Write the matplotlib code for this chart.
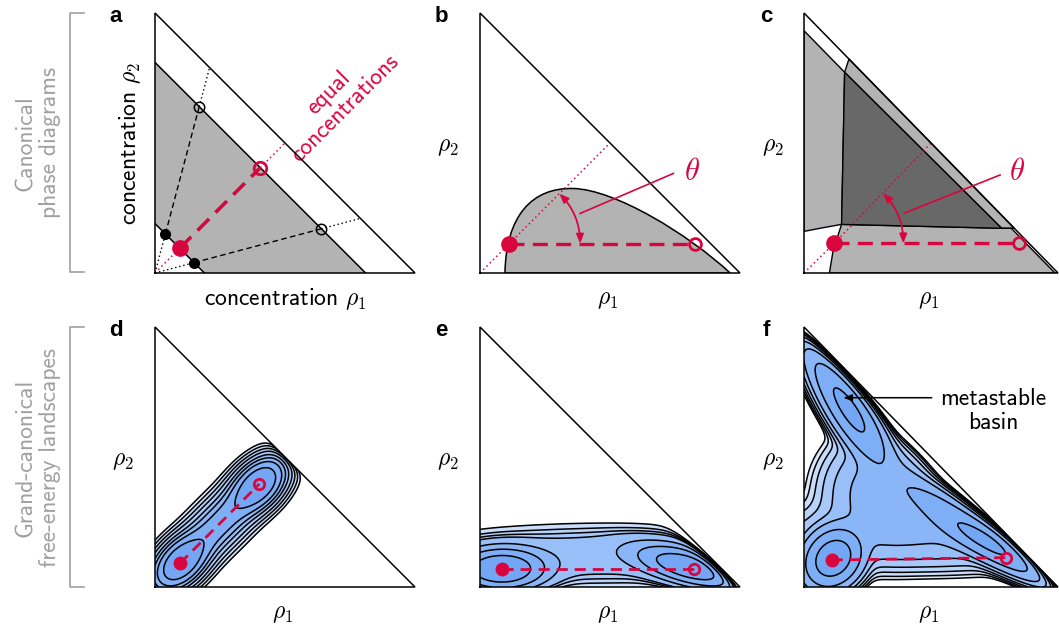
import numpy as np
import matplotlib
matplotlib.use("Agg")
import matplotlib.pyplot as plt
from matplotlib.patches import Polygon, PathPatch, FancyArrowPatch
from matplotlib.path import Path
from matplotlib.lines import Line2D

plt.rcParams["font.family"] = ["cmss10", "DejaVu Sans"]
plt.rcParams["mathtext.fontset"] = "cm"
plt.rcParams["axes.unicode_minus"] = False

RED = "#d8063f"
GRAY_TXT = "#a0a0a0"
LIGHT = "#b3b3b3"
DARK = "#686868"
# fill colours of the landscape bands, innermost first
BLUES = ["#73a7f5", "#7eaef6", "#8ab6f7", "#98bff8", "#a7c8f9", "#b8d3fa", "#cadefb", "#dde9fc"]

W, H = 1059, 624

# ---- panel a: tie lines between the two boundaries x+y=c ----
a_inner = 0.19
a_outer = 0.81
a_tie_dirs = [(0.21, 0.79), (0.79, 0.21)]   # directions of the black tie lines
a_red_dot = (0.095, 0.095)
a_red_ring = (0.405, 0.405)

# ---- panel b: binodal curve (bezier nodes) ----
b_curve = [(0.096, 0.0), (0.10, 0.22), (0.20, 0.33), (0.36, 0.325),
           (0.52, 0.32), (0.80, 0.15), (0.962, 0.0)]
b_red_dot = (0.113, 0.113)
b_red_ring = (0.827, 0.113)
b_theta_line = [(0.385, 0.229), (0.744, 0.383)]
b_theta_pos = (0.815, 0.385)

# ---- panel c: phase regions ----
c_left = [(0.0, 0.932), (0.16, 0.772), (0.148, 0.187), (0.063, 0.172), (0.0, 0.16)]
c_dark = [(0.16, 0.772), (0.778, 0.172), (0.148, 0.187)]
c_band = [(0.16, 0.772), (0.177, 0.823), (0.828, 0.172), (0.778, 0.172)]
c_bottom = [(0.148, 0.187), (0.778, 0.172), (0.816, 0.172), (0.988, 0.0),
            (0.10, 0.0), (0.115, 0.088)]
c_red_dot = (0.119, 0.114)
c_red_ring = (0.848, 0.114)
c_theta_line = [(0.394, 0.23), (0.772, 0.377)]
c_theta_pos = (0.84, 0.385)

# ---- panels d-f: wells of the free-energy landscapes ----
d_centers = [(0.096, 0.091), (0.401, 0.396), (0.25, 0.245)]
d_su = [0.07, 0.07, 0.16]
d_sv = [0.045, 0.045, 0.05]
d_ang = [45, 45, 45]
d_depth = [0.0, 0.0, -0.6]
d_levels = [0.4, 0.9, 1.3, 1.7, 2.2, 2.7, 3.25, 3.85]
d_red_dot = (0.096, 0.091)
d_red_ring = (0.401, 0.396)

e_centers = [(0.083, 0.068), (0.81, 0.075), (0.45, 0.12)]
e_su = [0.095, 0.12, 0.5]
e_sv = [0.045, 0.038, 0.085]
e_ang = [0, -15, 0]
e_depth = [0.0, -0.1, -1.95]
e_levels = [0.5, 1.1, 1.7, 2.29, 2.49, 2.71, 3.03]
e_red_dot = (0.083, 0.068)
e_red_ring = (0.824, 0.068)

f_centers = [(0.115, 0.11), (0.78, 0.155), (0.175, 0.695), (0.57, 0.28), (0.30, 0.36), (0.5, 0.2)]
f_su = [0.068, 0.17, 0.152, 0.174, 0.13, 0.35]
f_sv = [0.056, 0.04, 0.045, 0.043, 0.13, 0.08]
f_ang = [45, -26, -58, -32, 0, 0]
f_depth = [0.0, -0.2, -0.3, -1.1, -2.0, -2.35]
f_levels = [0.6, 1.5, 2.4, 3.0, 3.5, 3.9, 4.25, 4.55]
f_red_dot = (0.109, 0.104)
f_red_ring = (0.795, 0.113)
f_arrow = [(0.503, 0.728), (0.155, 0.728)]
f_text_pos = (0.744, 0.676)


def px_axes(fig, left, top, w, h):
    return fig.add_axes([left / W, 1 - (top + h) / H, w / W, h / H])


def setup(ax):
    ax.set_xlim(0, 1)
    ax.set_ylim(0, 1)
    ax.axis("off")


def triangle(ax, lw=1.1):
    ax.plot([0, 1, 0, 0], [0, 0, 1, 0], color="k", lw=lw, clip_on=False,
            solid_joinstyle="miter", zorder=5)


def red_pair(ax, p0, p1, lw=2.4, ms=10, ring=8, dash=(4, 2.5)):
    ax.plot([p0[0], p1[0]], [p0[1], p1[1]], color=RED, lw=lw, ls=(0, dash), zorder=6)
    ax.plot(*p0, "o", color=RED, ms=ms, zorder=7)
    ax.plot(*p1, "o", mfc="none", mec=RED, mew=2, ms=ring, zorder=7)


def diag_dots(ax, p0, p1):
    # dotted equal-concentration line, left open where the dashed tie line runs
    ax.plot([0, p0[0]], [0, p0[1]], color=RED, lw=1.1, ls=(0, (1, 2)), zorder=3)
    ax.plot([p1[0], 0.5], [p1[1], 0.5], color=RED, lw=1.1, ls=(0, (1, 2)), zorder=3)


def theta_marks(ax, center, radius, line, pos):
    p_a = (center[0] + radius, center[1])
    p_b = (center[0] + radius * np.cos(np.pi / 4), center[1] + radius * np.sin(np.pi / 4))
    arr = FancyArrowPatch(p_a, p_b, arrowstyle="<|-|>,head_length=0.55,head_width=0.22",
                          connectionstyle="arc3,rad=0.2", color=RED, lw=1.3,
                          mutation_scale=10, zorder=8, shrinkA=0, shrinkB=0)
    ax.add_patch(arr)
    ax.plot([line[0][0], line[1][0]], [line[0][1], line[1][1]], color=RED, lw=1.2, zorder=8)
    ax.text(pos[0], pos[1], r"$\theta$", color=RED, fontsize=22, ha="center", va="center")


def rho_labels(ax):
    ax.text(-0.123, 0.485, r"$\rho_2$", fontsize=17, ha="center", va="center")
    ax.text(0.49, -0.105, r"$\rho_1$", fontsize=17, ha="center", va="center")


def panel_label(ax, s):
    ax.text(-0.15, 0.985, s, fontsize=16, fontweight="bold", family="Liberation Sans",
            ha="center", va="center")


def landscape(ax, centers, su, sv, ang, depth, levels, wall, tau=1.0, reach=0.02):
    g = np.linspace(0, 1, 500)
    X, Y = np.meshgrid(g, g)
    terms = []
    for (cx, cy), a, b, t, dp in zip(centers, su, sv, ang, depth):
        t = np.deg2rad(t)
        dx, dy = X - cx, Y - cy
        u = dx * np.cos(t) + dy * np.sin(t)
        v = -dx * np.sin(t) + dy * np.cos(t)
        terms.append((-0.5 * (u ** 2 / a ** 2 + v ** 2 / b ** 2) + dp) / tau)
    T = np.array(terms)
    m = T.max(axis=0)
    F = -tau * (m + np.log(np.exp(T - m).sum(axis=0)))
    F = F + wall * np.exp(np.clip((X + Y - 1) / reach, -60, 30))
    cols = BLUES[:len(levels)]
    tri = Polygon([(0, 0), (1, 0), (0, 1)], closed=True, transform=ax.transData,
                  fc="none", ec="none")
    ax.add_patch(tri)
    cf = ax.contourf(X, Y, F, levels=[F.min() - 1] + levels, colors=cols)
    cl = ax.contour(X, Y, F, levels=levels, colors="k", linewidths=1.1)
    cf.set_clip_path(tri)
    cl.set_clip_path(tri)


fig = plt.figure(figsize=(W / 100, H / 100), dpi=100)

cols_px = [(155, 260), (480, 260), (804, 254)]
rows_px = [13, 327]
axs = [[px_axes(fig, l, t, w, 260) for (l, w) in cols_px] for t in rows_px]
for row in axs:
    for ax in row:
        setup(ax)

# ---------- a ----------
ax = axs[0][0]
ax.add_patch(Polygon([(0, a_inner), (0, a_outer), (a_outer, 0), (a_inner, 0)],
                     closed=True, fc=LIGHT, ec="none", zorder=1))
ax.plot([0, a_inner], [a_inner, 0], color="k", lw=1.1, zorder=3)
ax.plot([0, a_outer], [a_outer, 0], color="k", lw=1.1, zorder=3)
diag_dots(ax, a_red_dot, a_red_ring)
for dx, dy in a_tie_dirs:
    s = dx + dy
    p_in = (dx * a_inner / s, dy * a_inner / s)
    p_out = (dx * a_outer / s, dy * a_outer / s)
    ax.plot([0, p_in[0]], [0, p_in[1]], color="k", lw=1.0, ls=(0, (1, 2)), zorder=3)
    ax.plot([p_out[0], dx], [p_out[1], dy], color="k", lw=1.0, ls=(0, (1, 2)), zorder=3)
    ax.plot([p_in[0], p_out[0]], [p_in[1], p_out[1]], color="k", lw=1.0,
            ls=(0, (4, 2.5)), zorder=4)
    ax.plot(*p_in, "o", color="k", ms=7, zorder=7)
    ax.plot(*p_out, "o", mfc="none", mec="k", mew=1.1, ms=7.5, zorder=7)
red_pair(ax, a_red_dot, a_red_ring, lw=2.6, ms=11, ring=9, dash=(4.5, 2.5))
triangle(ax)
ax.text(-0.096, 0.5, r"concentration $\rho_2$", rotation=90, fontsize=17,
        ha="center", va="center")
ax.text(0.5, -0.1, r"concentration $\rho_1$", fontsize=17, ha="center", va="center")
ax.text(0.70, 0.664, "equal\nconcentrations", rotation=45, fontsize=17, color=RED,
        ha="center", va="center", multialignment="center", linespacing=1.0)
panel_label(ax, "a")

# ---------- b ----------
ax = axs[0][1]
codes = [Path.MOVETO] + [Path.CURVE4] * 6 + [Path.CLOSEPOLY]
verts = b_curve + [b_curve[0]]
ax.add_patch(PathPatch(Path(verts, codes), fc=LIGHT, ec="k", lw=1.1, zorder=1))
diag_dots(ax, b_red_dot, b_red_dot)
red_pair(ax, b_red_dot, b_red_ring, lw=2.4, ms=11, ring=8.5, dash=(4.5, 2.5))
theta_marks(ax, b_red_dot, 0.272, b_theta_line, b_theta_pos)
triangle(ax)
rho_labels(ax)
panel_label(ax, "b")

# ---------- c ----------
ax = axs[0][2]
for poly, fc in [(c_left, LIGHT), (c_band, LIGHT), (c_bottom, LIGHT), (c_dark, DARK)]:
    ax.add_patch(Polygon(poly, closed=True, fc=fc, ec="k", lw=1.0, zorder=1,
                         joinstyle="round"))
diag_dots(ax, c_red_dot, c_red_dot)
red_pair(ax, c_red_dot, c_red_ring, lw=2.4, ms=11, ring=8.5, dash=(4.5, 2.5))
theta_marks(ax, c_red_dot, 0.272, c_theta_line, c_theta_pos)
triangle(ax)
rho_labels(ax)
panel_label(ax, "c")

# ---------- d ----------
ax = axs[1][0]
landscape(ax, d_centers, d_su, d_sv, d_ang, d_depth, d_levels, wall=1.0)
red_pair(ax, d_red_dot, d_red_ring, lw=2.0, ms=9, ring=7.5, dash=(4, 2.5))
triangle(ax)
rho_labels(ax)
panel_label(ax, "d")

# ---------- e ----------
ax = axs[1][1]
landscape(ax, e_centers, e_su, e_sv, e_ang, e_depth, e_levels, wall=3.0)
red_pair(ax, e_red_dot, e_red_ring, lw=2.0, ms=9, ring=7.5, dash=(4, 2.5))
triangle(ax)
rho_labels(ax)
panel_label(ax, "e")

# ---------- f ----------
ax = axs[1][2]
landscape(ax, f_centers, f_su, f_sv, f_ang, f_depth, f_levels, wall=3.0, tau=0.6,
          reach=0.035)
red_pair(ax, f_red_dot, f_red_ring, lw=2.0, ms=9, ring=7.5, dash=(4, 2.5))
ax.annotate("", xy=f_arrow[1], xytext=f_arrow[0],
            arrowprops=dict(arrowstyle="-|>,head_length=0.5,head_width=0.2",
                            color="k", lw=1.1, shrinkA=0, shrinkB=0))
ax.text(*f_text_pos, "metastable\nbasin", fontsize=17, ha="center", va="center",
        linespacing=1.1)
triangle(ax)
rho_labels(ax)
panel_label(ax, "f")

# ---------- row brackets ----------
for top, bot, txt, yc in [(13, 272, "Canonical\nphase diagrams", 143),
                          (327, 587, "Grand-canonical\nfree-energy landscapes", 458)]:
    xs = [84 / W, 70 / W, 70 / W, 84 / W]
    ys = [1 - top / H, 1 - top / H, 1 - bot / H, 1 - bot / H]
    fig.add_artist(Line2D(xs, ys, color=GRAY_TXT, lw=1.2))
    fig.text(38 / W, 1 - yc / H, txt, rotation=90, fontsize=17, color=GRAY_TXT,
             ha="center", va="center", multialignment="center", linespacing=1.15)

fig.savefig("out.png", dpi=100)
